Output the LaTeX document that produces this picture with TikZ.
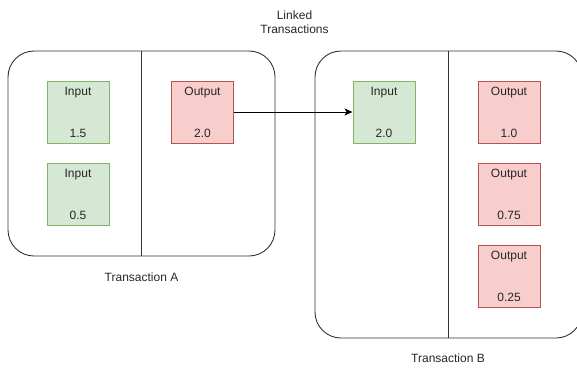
\documentclass[tikz,border=0pt]{standalone}
\usepackage{fontspec}
\setmainfont{Liberation Sans}
\usetikzlibrary{arrows.meta}
\definecolor{gfill}{HTML}{D5E8D4}
\definecolor{gline}{HTML}{82B366}
\definecolor{rfill}{HTML}{F8CECC}
\definecolor{rline}{HTML}{B85450}
\definecolor{frame}{HTML}{333333}
\tikzset{
  container/.style={draw=frame, line width=0.9pt, fill=white, rounded corners=26pt, inner sep=0pt},
  inbox/.style={draw=gline, fill=gfill, line width=0.9pt, minimum width=62pt, minimum height=62pt, inner sep=0pt, align=center, font=\fontsize{12}{14}\selectfont, text=black!85},
  outbox/.style={inbox, draw=rline, fill=rfill},
  caption/.style={font=\fontsize{12}{14}\selectfont, align=center, text=black!85},
  divider/.style={draw=frame, line width=0.9pt},
  link/.style={draw=black, line width=0.9pt, -{Stealth[length=8pt,width=7pt,inset=2pt]}}
}
\begin{document}
\begin{tikzpicture}[x=1pt,y=-1pt]
\useasboundingbox (0,0) rectangle (577,367);
% containers
\node[container, minimum width=267pt, minimum height=205pt] (A) at (141.5,153.5) {};
\node[container, minimum width=267pt, minimum height=287pt] (B) at (448.5,194.5) {};
\draw[divider] (A.north) -- (A.south);
\draw[divider] (B.north) -- (B.south);
% inner boxes A
\node[inbox] (a1) at (78,112) {Input\\[28pt]1.5};
\node[inbox] (a2) at (78,194.5) {Input\\[28pt]0.5};
\node[outbox] (a3) at (202.5,112) {Output\\[28pt]2.0};
% inner boxes B
\node[inbox] (b1) at (384,112) {Input\\[28pt]2.0};
\node[outbox] (b2) at (509,112) {Output\\[28pt]1.0};
\node[outbox] (b3) at (509,194.5) {Output\\[28pt]0.75};
\node[outbox] (b4) at (509,276.5) {Output\\[28pt]0.25};
% connector
\draw[link] (a3.east) -- (b1.west);
% captions
\node[caption] (lt) at (294.5,22) {Linked\\Transactions};
\node[caption] (ta) at (141.5,277) {Transaction A};
\node[caption] (tb) at (448,358.5) {Transaction B};
\end{tikzpicture}
\end{document}
